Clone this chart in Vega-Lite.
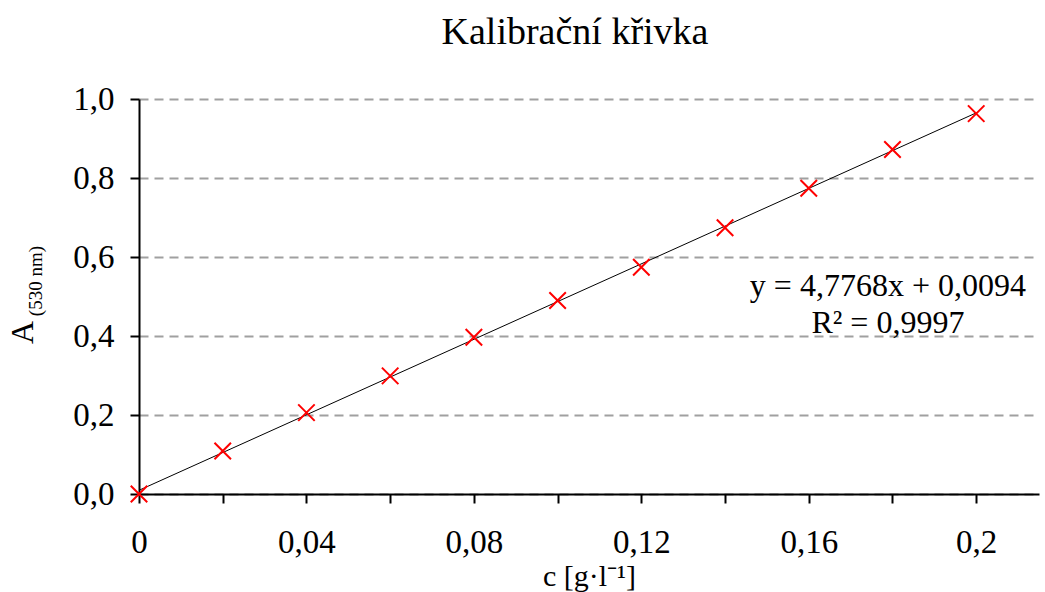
{
  "$schema": "https://vega.github.io/schema/vega-lite/v6.json",
  "width": 900,
  "height": 395,
  "autosize": {"type": "none"},
  "padding": {"left": 139, "top": 99, "right": 6, "bottom": 98},
  "background": "white",
  "title": {
    "text": "Kalibrační křivka",
    "font": "Liberation Serif",
    "fontSize": 38,
    "fontWeight": "normal",
    "color": "black",
    "anchor": "middle",
    "dx": -14,
    "offset": 31
  },
  "config": {
    "view": {"stroke": null},
    "font": "Liberation Serif",
    "axis": {
      "labelFont": "Liberation Serif",
      "titleFont": "Liberation Serif",
      "labelColor": "black",
      "titleColor": "black",
      "domainColor": "black",
      "tickColor": "black",
      "domainWidth": 2,
      "tickWidth": 2,
      "tickSize": 9,
      "titleFontWeight": "normal",
      "labelFlush": false
    }
  },
  "datasets": {
    "points": [
      {"c": 0.00, "A": 0.000},
      {"c": 0.02, "A": 0.109},
      {"c": 0.04, "A": 0.206},
      {"c": 0.06, "A": 0.299},
      {"c": 0.08, "A": 0.397},
      {"c": 0.10, "A": 0.490},
      {"c": 0.12, "A": 0.574},
      {"c": 0.14, "A": 0.674},
      {"c": 0.16, "A": 0.774},
      {"c": 0.18, "A": 0.872},
      {"c": 0.20, "A": 0.963}
    ],
    "trend": [
      {"c": 0.0, "A": 0.0094},
      {"c": 0.2, "A": 0.9648}
    ],
    "one": [{}]
  },
  "layer": [
    {
      "data": {"name": "trend"},
      "mark": {"type": "line", "color": "black", "strokeWidth": 1},
      "encoding": {
        "x": {
          "field": "c",
          "type": "quantitative",
          "scale": {"domain": [0, 0.215], "nice": false, "zero": true},
          "axis": {
            "title": "c [g·l⁻¹]",
            "titleFontSize": 30,
            "titleY": 91,
            "titleBaseline": "alphabetic",
            "values": [0, 0.02, 0.04, 0.06, 0.08, 0.1, 0.12, 0.14, 0.16, 0.18, 0.2],
            "labelExpr": "(round(datum.value*100) % 4 == 0) ? replace(format(datum.value, '~g'), '.', ',') : ''",
            "labelFontSize": 33,
            "labelPadding": 23,
            "labelFlush": false,
            "grid": false
          }
        },
        "y": {
          "field": "A",
          "type": "quantitative",
          "scale": {"domain": [0, 1], "nice": false},
          "axis": {
            "title": "A",
            "titleFontSize": 32,
            "titleAngle": -90,
            "titleX": -117,
            "titleY": 233,
            "titleBaseline": "middle",
            "titleAlign": "center",
            "values": [0, 0.2, 0.4, 0.6, 0.8, 1],
            "labelExpr": "replace(format(datum.value, '.1f'), '.', ',')",
            "labelFontSize": 33,
            "labelPadding": 16,
            "labelFlush": false,
            "grid": true,
            "gridColor": "#a0a0a0",
            "gridWidth": 2,
            "gridDash": [9, 6]
          }
        }
      }
    },
    {
      "data": {"name": "points"},
      "mark": {
        "type": "point",
        "shape": "M-1,-1L1,1M1,-1L-1,1",
        "filled": false,
        "color": "#ff0000",
        "strokeWidth": 2,
        "size": 272,
        "opacity": 1,
        "clip": false
      },
      "encoding": {
        "x": {"field": "c", "type": "quantitative"},
        "y": {"field": "A", "type": "quantitative"}
      }
    },
    {
      "data": {"name": "one"},
      "mark": {
        "type": "text",
        "text": ["y = 4,7768x + 0,0094", "R² = 0,9997"],
        "font": "Liberation Serif",
        "fontSize": 32,
        "lineHeight": 37,
        "align": "center",
        "baseline": "middle",
        "color": "black"
      },
      "encoding": {
        "x": {"datum": 0.1789, "type": "quantitative"},
        "y": {"datum": 0.527, "type": "quantitative"}
      }
    },
    {
      "data": {"name": "one"},
      "mark": {
        "type": "text",
        "text": "(530 nm)",
        "font": "Liberation Serif",
        "fontSize": 19,
        "angle": 270,
        "align": "center",
        "baseline": "middle",
        "color": "black",
        "clip": false
      },
      "encoding": {
        "x": {"datum": -0.0245, "type": "quantitative"},
        "y": {"datum": 0.539, "type": "quantitative"}
      }
    }
  ]
}
